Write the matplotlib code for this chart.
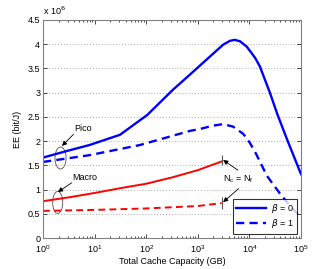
import matplotlib
matplotlib.use('Agg')
import matplotlib.pyplot as plt
from matplotlib.patches import Ellipse
import numpy as np

plt.rcParams['font.family'] = ['Liberation Sans', 'DejaVu Sans']
plt.rcParams['font.size'] = 6.5

# EE values in units of 1e6 bit/J, cache capacity in GB
pico_b0_x = [1, 3, 8, 31, 105, 330, 700, 1700, 3100, 4200, 5200, 6600, 8900, 12900, 16000, 25000, 35000, 54000, 100000]
pico_b0_y = [1.66, 1.80, 1.92, 2.13, 2.54, 3.06, 3.37, 3.74, 3.99, 4.07, 4.09, 4.06, 3.95, 3.72, 3.54, 3.00, 2.55, 2.03, 1.32]

pico_b1_x = [1, 8, 76, 700, 1100, 2000, 3100, 4800, 7600, 10000, 12600, 22000, 39000, 62000, 100000]
pico_b1_y = [1.57, 1.71, 1.92, 2.21, 2.25, 2.32, 2.35, 2.30, 2.15, 1.98, 1.80, 1.28, 0.92, 0.66, 0.42]

macro_b0_x = [1, 3.2, 10, 32, 100, 316, 1000, 2900]
macro_b0_y = [0.76, 0.84, 0.93, 1.03, 1.12, 1.25, 1.40, 1.58]

macro_b1_x = [1, 10, 100, 1000, 2900]
macro_b1_y = [0.56, 0.58, 0.61, 0.66, 0.72]

n_end = 2900

fig = plt.figure(figsize=(3.32, 2.69), dpi=100)
ax = fig.add_axes([0.1295, 0.1152, 0.777, 0.8105])

ax.plot(pico_b0_x, pico_b0_y, color='#0000ff', lw=1.7, label=r'$\beta$ = 0')
ax.plot(pico_b1_x, pico_b1_y, color='#0000ff', lw=1.7, ls=(0, (3.5, 2.2)), label=r'$\beta$ = 1')
ax.plot(macro_b0_x, macro_b0_y, color='#ff0000', lw=1.4)
ax.plot(macro_b1_x, macro_b1_y, color='#ff0000', lw=1.4, ls=(0, (3.5, 2.2)))

# end markers at N_c = N_f
ax.vlines([n_end, n_end], [1.50, 0.60], [1.71, 0.85], color='0.35', lw=0.8)

ax.set_xscale('log')
ax.set_xlim(1, 1e5)
ax.set_ylim(0, 4.5)
ax.set_yticks(np.arange(0, 4.51, 0.5))
ax.set_yticklabels(['0', '0.5', '1', '1.5', '2', '2.5', '3', '3.5', '4', '4.5'])
ax.yaxis.grid(True, ls=(0, (1, 2.5)), color='0.55', lw=0.6)
ax.tick_params(which='both', direction='in', top=True, right=True, labelsize=6.5)
ax.tick_params(axis='x', pad=4)
ax.tick_params(axis='y', pad=2)
ax.tick_params(which='major', length=3, width=0.5)
ax.tick_params(which='minor', length=1.5, width=0.5)
for s in ax.spines.values():
    s.set_color('0.5')
    s.set_linewidth(0.8)

ax.set_xlabel('Total Cache Capacity (GB)', fontsize=6.5, labelpad=1.5)
ax.set_ylabel('EE (bit/J)', fontsize=6.5, labelpad=4)
ax.text(0, 1.015, r'x 10$^6$', transform=ax.transAxes, fontsize=6.5, ha='left', va='bottom')

# ellipses
ax.add_patch(Ellipse((0.068, 0.367), 0.043, 0.101, transform=ax.transAxes,
                     fill=False, ec='0.3', lw=0.6))
ax.add_patch(Ellipse((0.057, 0.163), 0.039, 0.101, transform=ax.transAxes,
                     fill=False, ec='0.3', lw=0.6))

arr = dict(arrowstyle='-|>', color='black', lw=0.6, mutation_scale=7, shrinkA=0, shrinkB=0)
ax.annotate('', xy=(2.33, 1.90), xytext=(3.9, 2.14), arrowprops=arr)
ax.text(6.0, 2.27, 'Pico', fontsize=6.5, ha='center', va='center')
ax.annotate('', xy=(1.95, 0.95), xytext=(3.6, 1.14), arrowprops=arr)
ax.text(6.5, 1.24, 'Macro', fontsize=6.5, ha='center', va='center')

ax.text(6200, 1.22, r'N$_\mathregular{c}$ = N$_\mathregular{f}$', fontsize=6.5, ha='center', va='center')
ax.annotate('', xy=(3100, 1.61), xytext=(6000, 1.40), arrowprops=arr)
ax.annotate('', xy=(3100, 0.74), xytext=(6200, 1.02), arrowprops=arr)

leg = ax.legend(loc='lower right', bbox_to_anchor=(0.985, 0.02), fontsize=6.5,
                handlelength=3.3, frameon=True, fancybox=False, borderpad=0.35,
                labelspacing=0.25, handletextpad=0.6, borderaxespad=0)
leg.get_frame().set_edgecolor('black')
leg.get_frame().set_linewidth(0.8)

fig.savefig('out.png', dpi=100)
